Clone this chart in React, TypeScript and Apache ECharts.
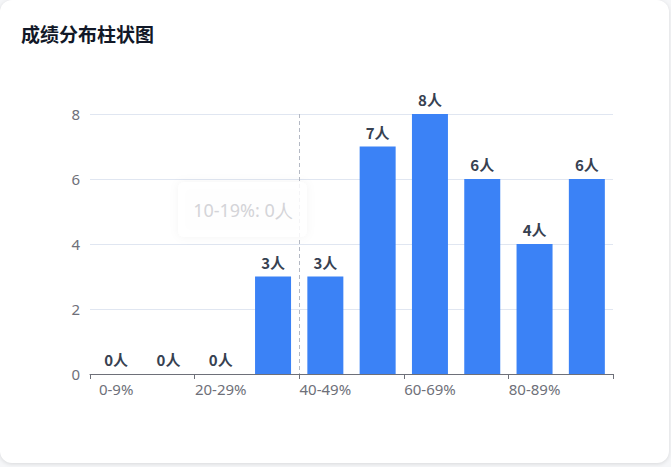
import React, { useEffect, useRef } from "react";
import * as echarts from "echarts";

const categories = ["0-9%", "10-19%", "20-29%", "30-39%", "40-49%", "50-59%", "60-69%", "70-79%", "80-89%", "90-100%"];
const counts = [0, 0, 0, 3, 3, 7, 8, 6, 4, 6];
const yTicks = { min: 0, max: 8, interval: 2 };
const title = "成绩分布柱状图";
const tooltipText = "10-19%: 0人";

export default function App() {
  const ref = useRef<HTMLDivElement>(null);
  useEffect(() => {
    document.body.style.margin = "0";
    if (!ref.current) return;
    const chart = echarts.init(ref.current, undefined, { renderer: "svg" });
    chart.setOption({
      animation: false,
      title: {
        text: title,
        left: 16,
        top: 19,
        textStyle: { fontSize: 19, fontWeight: "bold", color: "#111827", fontFamily: "Noto Sans CJK SC, sans-serif" },
      },
      grid: { left: 90, right: 56, top: 114, bottom: 89 },
      xAxis: {
        type: "category",
        data: categories,
        axisLine: { lineStyle: { color: "#6e7079" } },
        axisTick: { show: true, length: 5, lineStyle: { color: "#6e7079" } },
        axisLabel: { color: "#6e7079", fontSize: 15, margin: 7, fontFamily: "Noto Sans, sans-serif" },
      },
      yAxis: {
        type: "value",
        min: yTicks.min,
        max: yTicks.max,
        interval: yTicks.interval,
        axisLabel: { color: "#6e7079", fontSize: 15, margin: 10, fontFamily: "Noto Sans, sans-serif" },
        splitLine: { lineStyle: { color: "#e0e6f1" } },
      },
      series: [
        {
          type: "bar",
          data: counts,
          barWidth: 36,
          itemStyle: { color: "#3b82f6" },
          label: {
            show: true,
            position: "top",
            formatter: "{c}人",
            fontSize: 15,
            fontWeight: "bold",
            color: "#374151",
            distance: 7,
            fontFamily: "Noto Sans CJK SC, sans-serif",
          },
        },
      ],
    });
    const p3 = chart.convertToPixel({ xAxisIndex: 0 }, categories[3]) as number;
    const p4 = chart.convertToPixel({ xAxisIndex: 0 }, categories[4]) as number;
    const px = Math.round((p3 + p4) / 2) + 0.5;
    const yTop = chart.convertToPixel({ yAxisIndex: 0 }, yTicks.max) as number;
    const yBot = chart.convertToPixel({ yAxisIndex: 0 }, yTicks.min) as number;
    chart.setOption({
      graphic: [
        {
          type: "line",
          shape: { x1: px, y1: yTop, x2: px, y2: yBot },
          style: { stroke: "#b4b9c4", lineWidth: 1, lineDash: [4, 3] },
          z: 1,
        },
        {
          type: "rect",
          shape: { x: 178, y: 182, width: 129, height: 55, r: 6 },
          style: { fill: "rgba(255,255,255,0.85)", shadowBlur: 10, shadowColor: "rgba(0,0,0,0.05)" },
          z: 100,
        },
        {
          type: "text",
          x: 243,
          y: 210,
          style: {
            text: tooltipText,
            fill: "#d4d4d8",
            fontSize: 18,
            align: "center",
            verticalAlign: "middle",
            fontFamily: "Noto Sans, sans-serif",
          },
          z: 101,
        },
      ],
    });
    return () => chart.dispose();
  }, []);
  return (
    <div style={{ position: "fixed", left: 0, top: 0, width: 671, height: 467, background: "#f5f6f8" }}>
      <div
        style={{
          position: "absolute",
          left: 0,
          top: 0,
          width: 669,
          height: 463,
          background: "#fff",
          borderRadius: 12,
          boxShadow: "0 1px 4px rgba(0,0,0,0.12)",
        }}
      >
        <div ref={ref} style={{ width: 669, height: 463 }} />
      </div>
    </div>
  );
}
